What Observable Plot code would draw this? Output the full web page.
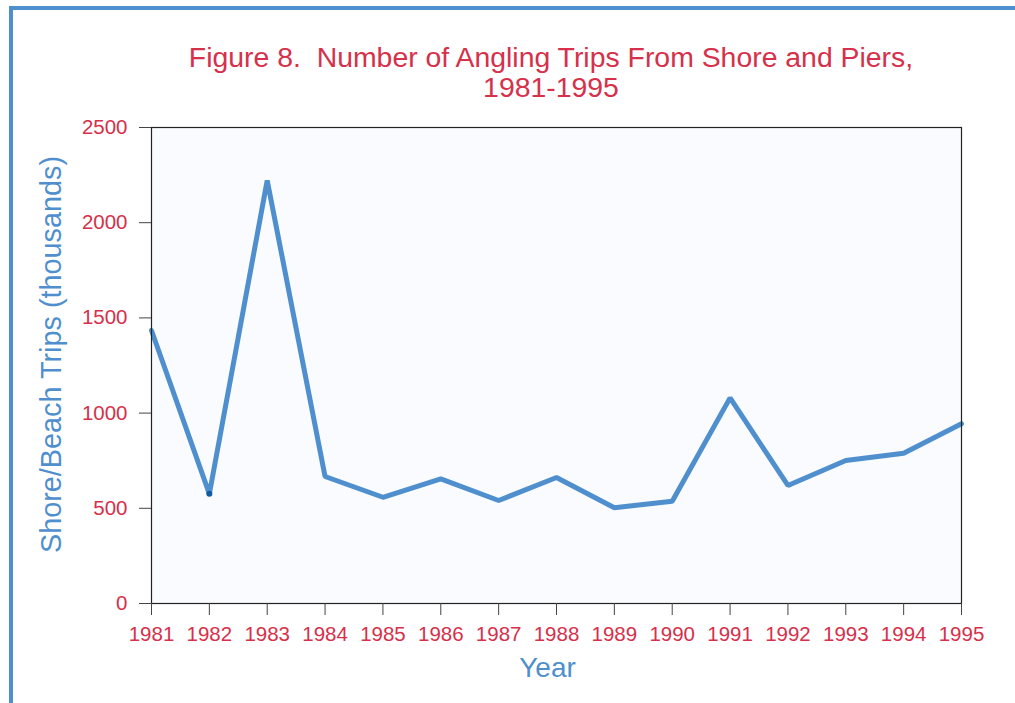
<!DOCTYPE html>
<html>
<head>
<meta charset="utf-8">
<script src="https://cdn.jsdelivr.net/npm/d3@7"></script>
<script src="https://cdn.jsdelivr.net/npm/@observablehq/plot@0.6"></script>
<style>
  html, body { margin: 0; padding: 0; background: #fff; }
  #wrap { position: relative; width: 1015px; height: 703px; overflow: hidden; font-family: "Liberation Sans", Arial, sans-serif; }
  #borderTop { position: absolute; left: 9px; top: 6px; width: 1006px; height: 4px; background: #4f8fcd; }
  #borderLeft { position: absolute; left: 9px; top: 6px; width: 4px; height: 697px; background: #4f8fcd; }
  #title { position: absolute; left: 151px; width: 800px; top: 42px; text-align: center; color: #d6304b; font-size: 28.4px; line-height: 30px; }
  #chart { position: absolute; left: 0; top: 110px; }
</style>
</head>
<body>
<div id="wrap">
  <div id="borderTop"></div>
  <div id="borderLeft"></div>
  <div id="title">Figure 8.&nbsp; Number of Angling Trips From Shore and Piers,<br>1981-1995</div>
  <div id="chart"></div>
</div>
<script>
const years = [1981, 1982, 1983, 1984, 1985, 1986, 1987, 1988, 1989, 1990, 1991, 1992, 1993, 1994, 1995];
const trips = [1434, 576, 2222, 667, 558, 655, 541, 662, 503, 537, 1080, 620, 751, 789, 944];
const yTicks = [0, 500, 1000, 1500, 2000, 2500];
const markedYear = 1982;

const data = years.map((y, i) => ({year: y, trips: trips[i]}));
const red = "#d6304b";
const blue = "#4f8fcd";

const chart = Plot.plot({
  width: 1015,
  height: 593,
  marginLeft: 151,
  marginRight: 54,
  marginTop: 17,
  marginBottom: 100,
  style: {fontFamily: "Liberation Sans, Arial, sans-serif", background: "transparent", overflow: "visible"},
  x: {domain: [1981, 1995], ticks: years, tickFormat: "d"},
  y: {domain: [0, 2500], ticks: yTicks, tickFormat: "d"},
  marks: [
    Plot.frame({fill: "#f9fbfe", stroke: "none"}),
    Plot.line(data, {x: "year", y: "trips", stroke: blue, strokeWidth: 5, strokeLinejoin: "miter"}),
    Plot.dot(data.filter(d => d.year === markedYear), {x: "year", y: "trips", r: 3, fill: "#135aa3", stroke: "none"}),
    Plot.frame({stroke: "#222", strokeWidth: 1.2}),
    Plot.axisY({ticks: yTicks, tickFormat: "d", tickSize: 12, tickPadding: 12, fill: red, stroke: "#444", fontSize: 20.5, label: null}),
    Plot.axisX({ticks: years, tickFormat: "d", tickSize: 12, tickPadding: 11, fill: red, stroke: "#444", fontSize: 20.5, label: null}),
    Plot.text(["Shore/Beach Trips (thousands)"], {frameAnchor: "left", rotate: -90, textAnchor: "middle", lineAnchor: "middle", dx: -100, dy: -11, fill: blue, fontSize: 28.8}),
    Plot.text(["Year"], {frameAnchor: "bottom", textAnchor: "middle", lineAnchor: "middle", dx: -9, dy: 65, fill: blue, fontSize: 28})
  ]
});
document.getElementById("chart").appendChild(chart);
</script>
</body>
</html>
